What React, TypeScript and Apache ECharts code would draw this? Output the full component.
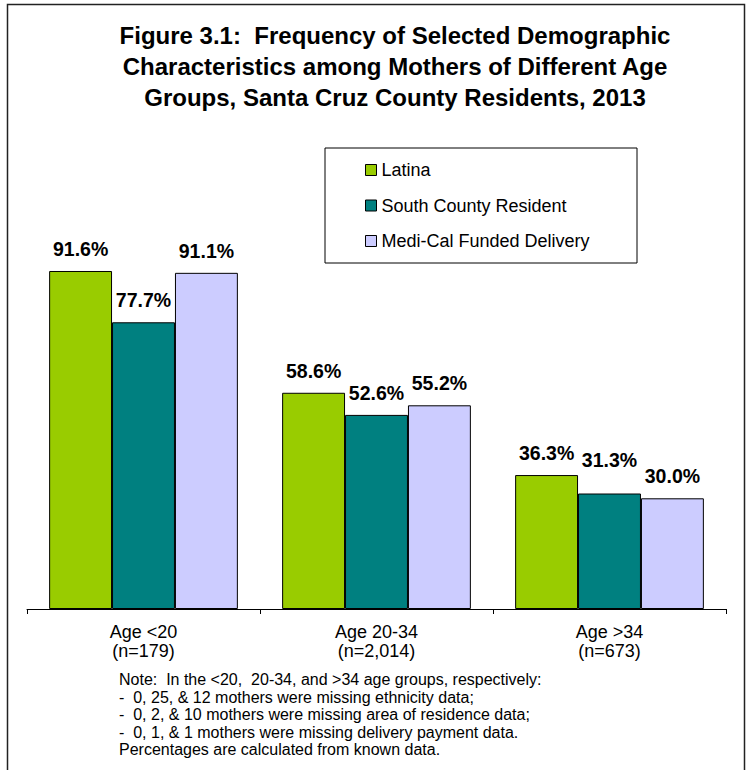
import React, { useEffect, useRef } from "react";
import * as echarts from "echarts";

const categories = ["Age <20\n(n=179)", "Age 20-34\n(n=2,014)", "Age >34\n(n=673)"];
const seriesNames = ["Latina", "South County Resident", "Medi-Cal Funded Delivery"];
const latina = [91.6, 58.6, 36.3];
const southCounty = [77.7, 52.6, 31.3];
const mediCal = [91.1, 55.2, 30.0];
const colors = ["#99CC00", "#008080", "#CCCCFF"];
const titleLines = [
  "Figure 3.1:  Frequency of Selected Demographic",
  "Characteristics among Mothers of Different Age",
  "Groups, Santa Cruz County Residents, 2013",
];
const noteLines = [
  "Note:  In the <20,  20-34, and >34 age groups, respectively:",
  "-  0, 25, & 12 mothers were missing ethnicity data;",
  "-  0, 2, & 10 mothers were missing area of residence data;",
  "-  0, 1, & 1 mothers were missing delivery payment data.",
  "Percentages are calculated from known data.",
];

const FONT = "Arial, 'Liberation Sans', sans-serif";

export default function App() {
  const ref = useRef<HTMLDivElement>(null);
  useEffect(() => {
    if (!ref.current) return;
    const chart = echarts.init(ref.current, null, { renderer: "svg" });
    const values = [latina, southCounty, mediCal];
    chart.setOption({
      animation: false,
      backgroundColor: "#ffffff",
      textStyle: { fontFamily: FONT },
      grid: { left: 27, right: 21, top: 240, bottom: 161, containLabel: false },
      legend: {
        data: seriesNames,
        orient: "vertical",
        left: 360,
        top: 156,
        icon: "rect",
        itemWidth: 11,
        itemHeight: 11,
        itemGap: 17.5,
        itemStyle: { borderColor: "#000", borderWidth: 1 },
        textStyle: { fontSize: 18, color: "#000", fontFamily: FONT },
      },
      xAxis: {
        type: "category",
        data: categories,
        axisLine: { lineStyle: { color: "#000", width: 1 } },
        axisTick: { show: true, length: 5, lineStyle: { color: "#000" } },
        axisLabel: { color: "#000", fontSize: 18, lineHeight: 19, margin: 13, fontFamily: FONT },
      },
      yAxis: { type: "value", min: 0, max: 100, show: false, splitLine: { show: false } },
      series: seriesNames.map((name, i) => ({
        name,
        type: "bar",
        data: values[i].map((v, j) =>
          i === 1 && j === 2 ? { value: v, label: { offset: [0, -12] } } : v
        ),
        barGap: "0%",
        barCategoryGap: "19%",
        itemStyle: { color: colors[i], borderColor: "#000", borderWidth: 1 },
        label: {
          show: true,
          position: "top",
          distance: 12,
          fontSize: 19.5,
          fontWeight: "bold",
          color: "#000",
          fontFamily: FONT,
          formatter: (p: any) => Number(p.value).toFixed(1) + "%",
        },
      })),
      graphic: [
        {
          type: "rect",
          shape: { x: 7.5, y: 4.5, width: 737, height: 800 },
          style: { fill: "none", stroke: "#222", lineWidth: 1.5 },
          silent: true,
        },
        {
          type: "rect",
          shape: { x: 325, y: 148, width: 312, height: 115 },
          style: { fill: "none", stroke: "#000", lineWidth: 1 },
          silent: true,
        },
        {
          type: "text",
          x: 395,
          y: 20,
          style: {
            text: titleLines.join("\n"),
            textAlign: "center",
            fontSize: 24,
            fontWeight: "bold",
            lineHeight: 31,
            fill: "#000",
            fontFamily: FONT,
          },
        },
        {
          type: "text",
          x: 119,
          y: 671,
          style: {
            text: noteLines.join("\n"),
            fontSize: 16,
            lineHeight: 17.5,
            fill: "#000",
            fontFamily: FONT,
          },
        },
      ],
    });
    return () => chart.dispose();
  }, []);
  return (
    <div
      ref={ref}
      style={{ position: "fixed", left: 0, top: 0, width: 747, height: 770 }}
    />
  );
}
